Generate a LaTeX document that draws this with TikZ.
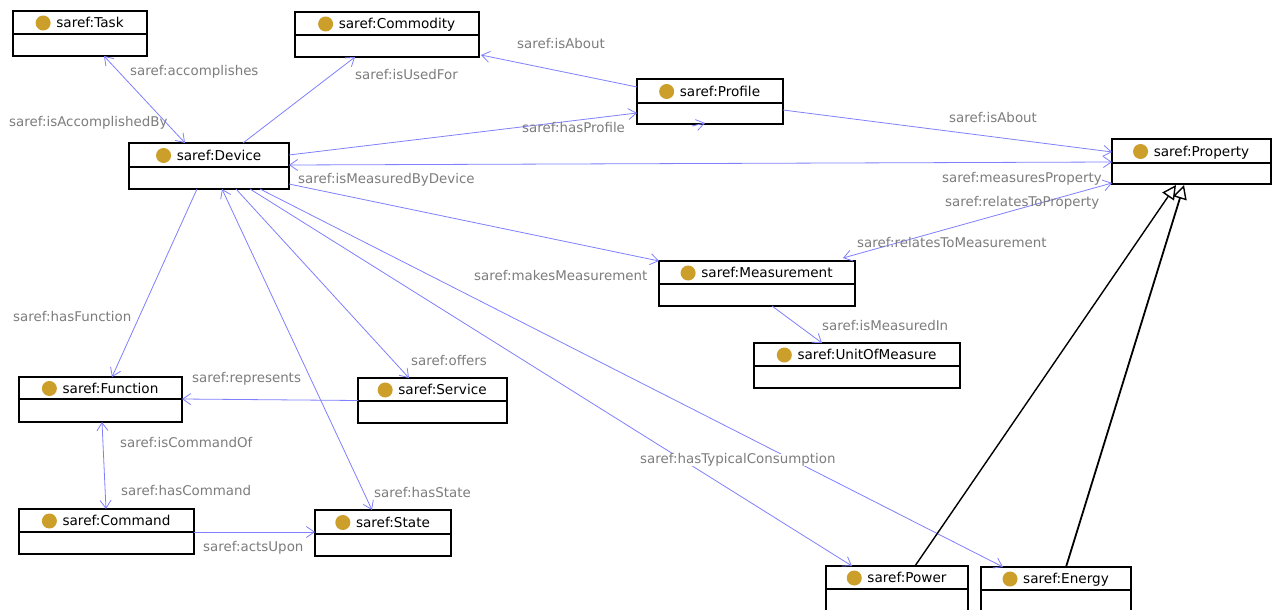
\documentclass[tikz,border=0pt]{standalone}
\usepackage{fontspec}
\setmainfont{DejaVu Sans}
\usetikzlibrary{arrows.meta,calc}
\definecolor{relblue}{RGB}{128,128,255}
\definecolor{lblgray}{RGB}{125,125,125}
\definecolor{dotgold}{RGB}{204,158,42}
\tikzset{
  classbox/.style={draw=black, line width=1.2pt, fill=white, inner sep=0pt, outer sep=0pt, anchor=north west},
  classtitle/.style={font=\fontsize{13.6}{15}\selectfont, inner sep=0pt, text=black, text height=9.5pt, text depth=2.5pt},
  barb/.tip={Straight Barb[length=8pt,width=11pt]},
  rel/.style={draw=relblue, line width=0.8pt, -barb},
  relboth/.style={draw=relblue, line width=0.8pt, barb-barb},
  rellbl/.style={font=\fontsize{13.4}{15}\selectfont, text=lblgray, inner sep=0pt, anchor=west},
  isa/.style={draw=black, line width=1.4pt, -{Triangle[open, length=14pt, width=14pt, line width=1.4pt]}},
}
\newcommand{\umlclass}[7]{%
  \pgfmathsetmacro{\uclw}{#4-#2}%
  \pgfmathsetmacro{\uclh}{#5-#3}%
  \node[classbox, minimum width=\uclw pt, minimum height=\uclh pt] (#1) at (#2,#3) {};
  \draw[line width=1.2pt] (#2,#6) -- (#4,#6);
  \pgfmathsetmacro{\uclcx}{(#2+#4)/2+10}%
  \pgfmathsetmacro{\uclcy}{(#3+#6)/2+1.5}%
  \node[classtitle] (#1-title) at (\uclcx,\uclcy) {#7};
  \fill[dotgold] ($(#1-title.west)+(-13,-1)$) circle (7.5);
}
\begin{document}
\begin{tikzpicture}[x=1pt,y=-1pt]
\useasboundingbox[fill=white] (0,0) rectangle (1272,610);
% classes
\umlclass{task}{13}{11}{147}{56}{34}{saref:Task}
\umlclass{commodity}{295}{12}{479}{57}{35}{saref:Commodity}
\umlclass{profile}{637}{79}{783}{124}{103}{saref:Profile}
\umlclass{device}{129}{143}{289}{189}{167}{saref:Device}
\umlclass{property}{1112}{139}{1271}{184}{163}{saref:Property}
\umlclass{measurement}{659}{261}{855}{306}{284}{saref:Measurement}
\umlclass{uom}{754}{343}{960}{388}{366}{saref:UnitOfMeasure}
\umlclass{function}{19}{377}{182}{422}{399}{saref:Function}
\umlclass{service}{358}{378}{507}{423}{401}{saref:Service}
\umlclass{command}{19}{509}{194}{554}{532}{saref:Command}
\umlclass{state}{315}{510}{451}{556}{534}{saref:State}
\umlclass{power}{826}{566}{968}{630}{589}{saref:Power}
\umlclass{energy}{981}{567}{1131}{630}{590}{saref:Energy}
% connectors
\draw[relboth] ($(task.south west)+(91,0)$) -- ($(device.north west)+(56,0)$);
\draw[rel] ($(device.north west)+(114,0)$) -- ($(commodity.south west)+(60,0)$);
\draw[rel] ($(profile.north west)+(0,8)$) -- ($(commodity.south east)+(2,-2)$);
\draw[rel] ($(device.north east)+(0,12)$) -- ($(profile.north west)+(0,34)$);
\coordinate (stray) at (692,126);
\draw[rel] (stray) -- ($(profile.south west)+(68,-1)$);
\draw[relboth] ($(device.north east)+(0,22)$) -- ($(property.north west)+(0,23)$);
\draw[rel] ($(profile.north east)+(0,31)$) -- ($(property.north west)+(0,13)$);
\draw[rel] ($(device.south east)+(0,-5)$) -- (measurement.north west);
\draw[relboth] ($(measurement.north east)+(-12,-3)$) -- ($(property.south west)+(0,-1)$);
\draw[rel] ($(measurement.south west)+(113,0)$) -- ($(uom.north west)+(68,0)$);
\draw[rel] ($(device.south west)+(68,0)$) -- ($(function.north west)+(93,0)$);
\draw[rel] (service.west) -- ($(function.north east)+(0,22)$);
\draw[relboth] ($(function.south west)+(83,0)$) -- ($(command.north west)+(87,0)$);
\draw[rel] ($(command.north east)+(0,23)$) -- ($(state.north west)+(0,22)$);
\draw[relboth] ($(device.south west)+(93,0)$) -- ($(state.north west)+(57,0)$);
\draw[rel] ($(device.south west)+(107,0)$) -- ($(service.north west)+(51,0)$);
\draw[rel] ($(device.south west)+(121,0)$) -- ($(power.north west)+(26,0)$);
\draw[rel] ($(device.south west)+(131,0)$) -- ($(energy.north west)+(22,0)$);
\draw[isa] ($(power.north west)+(89,0)$) -- ($(property.south west)+(64,1)$);
\draw[isa, line width=1.8pt] ($(energy.north west)+(85,0)$) -- ($(property.south west)+(72,1)$);
% labels
\node[rellbl] (l-acc) at (130,72) {saref:accomplishes};
\node[rellbl] (l-accby) at (9,123) {saref:isAccomplishedBy};
\node[rellbl] (l-used) at (355,75) {saref:isUsedFor};
\node[rellbl] (l-about1) at (517,44) {saref:isAbout};
\node[rellbl] (l-prof) at (522,128) {saref:hasProfile};
\node[rellbl] (l-mbd) at (298,180) {saref:isMeasuredByDevice};
\node[rellbl] (l-about2) at (949,118) {saref:isAbout};
\node[rellbl] (l-mprop) at (942,179) {saref:measuresProperty};
\node[rellbl] (l-rtp) at (945,203) {saref:relatesToProperty};
\node[rellbl] (l-rtm) at (857,243) {saref:relatesToMeasurement};
\node[rellbl] (l-makes) at (474,276) {saref:makesMeasurement};
\node[rellbl] (l-unit) at (822,326) {saref:isMeasuredIn};
\node[rellbl] (l-func) at (13,317) {saref:hasFunction};
\node[rellbl] (l-repr) at (192,379) {saref:represents};
\node[rellbl] (l-cmdof) at (120,443) {saref:isCommandOf};
\node[rellbl] (l-hascmd) at (121,490) {saref:hasCommand};
\node[rellbl] (l-acts) at (203,548) {saref:actsUpon};
\node[rellbl] (l-state) at (374,493) {saref:hasState};
\node[rellbl] (l-offers) at (411,361) {saref:offers};
\node[rellbl, fill=white] (l-cons) at (640,460) {saref:hasTypicalConsumption};
\end{tikzpicture}
\end{document}
